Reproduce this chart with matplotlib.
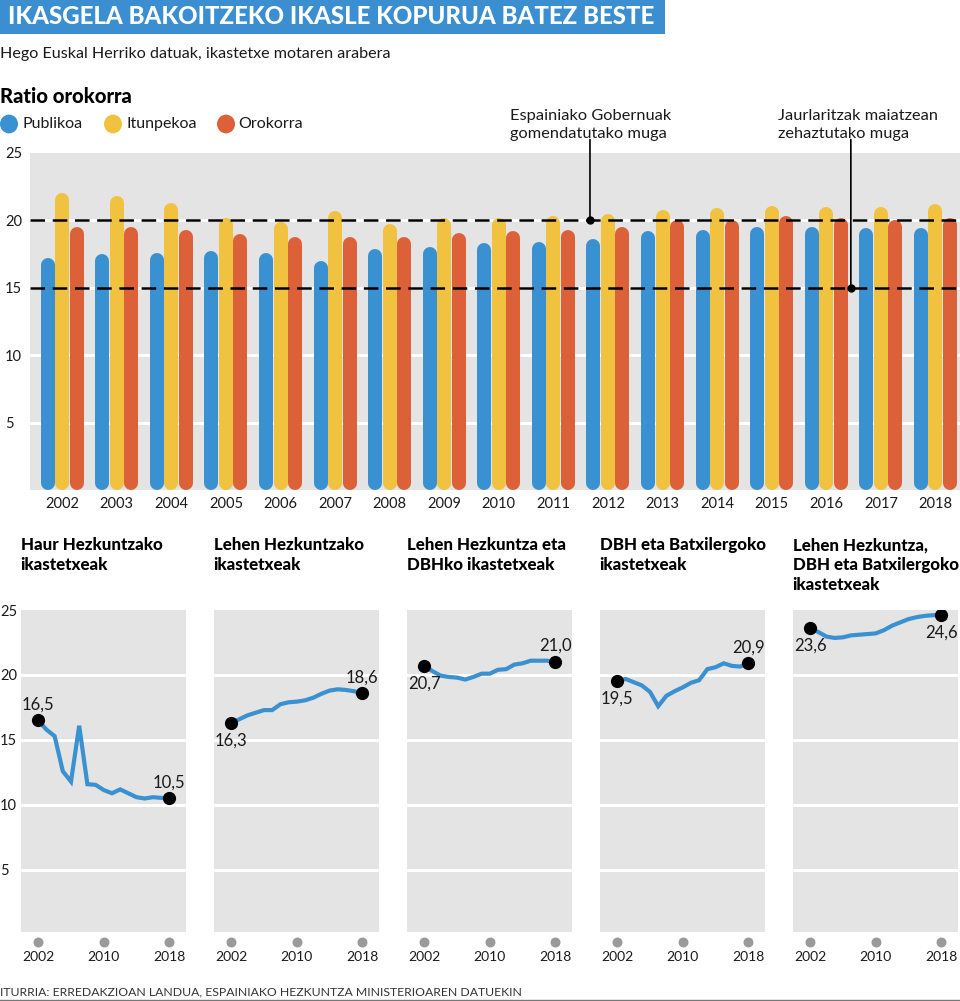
import numpy as np
import matplotlib
matplotlib.use("Agg")
from matplotlib import pyplot as plt
from matplotlib import transforms
from matplotlib.patches import Rectangle, Circle

plt.rcParams['font.family'] = ['Lato', 'DejaVu Sans']
plt.rcParams['lines.scale_dashes'] = False

# ---- data ----
years = list(range(2002, 2019))
publikoa = [17.2, 17.5, 17.6, 17.7, 17.6, 17.0, 17.85, 18.0, 18.3, 18.4, 18.6, 19.2, 19.3, 19.5, 19.5, 19.4, 19.4]
itunpekoa = [22.0, 21.8, 21.3, 20.2, 19.9, 20.7, 19.75, 20.2, 20.2, 20.3, 20.5, 20.8, 20.9, 21.1, 21.0, 21.0, 21.2]
orokorra = [19.5, 19.5, 19.3, 19.0, 18.8, 18.8, 18.8, 19.1, 19.2, 19.3, 19.5, 20.0, 20.05, 20.3, 20.2, 20.05, 20.2]

haur = [16.5, 15.8, 15.3, 12.6, 11.8, 16.1, 11.6, 11.55, 11.15, 10.9, 11.2, 10.9, 10.6, 10.5, 10.6, 10.55, 10.5]
lehen = [16.3, 16.6, 16.9, 17.1, 17.3, 17.3, 17.75, 17.9, 17.95, 18.05, 18.25, 18.55, 18.8, 18.9, 18.85, 18.75, 18.6]
lehen_dbh = [20.7, 20.3, 19.95, 19.85, 19.8, 19.65, 19.85, 20.1, 20.1, 20.4, 20.45, 20.8, 20.9, 21.1, 21.1, 21.1, 21.0]
dbh_batx = [19.5, 19.7, 19.45, 19.2, 18.7, 17.6, 18.4, 18.75, 19.05, 19.4, 19.6, 20.45, 20.6, 20.9, 20.7, 20.65, 20.9]
lehen_dbh_batx = [23.6, 23.3, 22.95, 22.85, 22.9, 23.05, 23.1, 23.15, 23.2, 23.45, 23.8, 24.05, 24.3, 24.45, 24.55, 24.6, 24.6]

series_names = ['Publikoa', 'Itunpekoa', 'Orokorra']
panel_titles = ['Haur Hezkuntzako\nikastetxeak',
                'Lehen Hezkuntzako\nikastetxeak',
                'Lehen Hezkuntza eta\nDBHko ikastetxeak',
                'DBH eta Batxilergoko\nikastetxeak',
                'Lehen Hezkuntza,\nDBH eta Batxilergoko\nikastetxeak']
panel_data = [haur, lehen, lehen_dbh, dbh_batx, lehen_dbh_batx]
# label placement of first / last value: 'a' above, 'b' below
label_pos = [('a', 'a'), ('b', 'a'), ('b', 'a'), ('b', 'a'), ('b', 'b')]

BLUE = '#3a91d1'
YELLOW = '#f1c23f'
ORANGE = '#dc6139'
GRAY = '#e4e4e4'
TXT = '#1a1a1a'

W, H = 960, 1001
fig = plt.figure(figsize=(W / 100, H / 100), dpi=100)


def fx(px):
    return px / W


def fy(py):
    return 1 - py / H


# ---- header ----
fig.patches.append(Rectangle((0, fy(34)), fx(665), 34 / H, transform=fig.transFigure,
                             facecolor='#3b8fd0', edgecolor='none'))
fig.text(fx(8), fy(17), 'IKASGELA BAKOITZEKO IKASLE KOPURUA BATEZ BESTE', color='white',
         fontsize=17.3, fontweight='black', va='center', ha='left')
fig.text(fx(0), fy(54), 'Hego Euskal Herriko datuak, ikastetxe motaren arabera', color=TXT,
         fontsize=11.6, va='center', ha='left')
fig.text(fx(0), fy(97), 'Ratio orokorra', color='black', fontsize=14.6, fontweight='black',
         va='center', ha='left')

# legend
for cx, tx, col, name in zip([9, 113, 226], [22, 126, 238], [BLUE, YELLOW, ORANGE], series_names):
    fig.patches.append(Circle((fx(cx), fy(124)), 9 / W, transform=fig.transFigure,
                              facecolor=col, edgecolor='none'))
    fig.text(fx(tx), fy(124), name, color=TXT, fontsize=11.5, va='center', ha='left')

# ---- main bar chart ----
ax = fig.add_axes([fx(30), fy(490), fx(930), (490 - 153) / H])
ax.set_facecolor(GRAY)
for s in ax.spines.values():
    s.set_visible(False)
ax.set_xlim(2001.41, 2018.45)
ax.set_ylim(0, 25)
for g in [5, 10, 15, 20]:
    ax.axhline(g, color='white', lw=2.2, zorder=1)

r = 7 / (337 / 25)  # cap radius in data units
bar_lw = 14 * 0.72
for off, vals, col in zip([-0.266, 0, 0.266], [publikoa, itunpekoa, orokorra], [BLUE, YELLOW, ORANGE]):
    for yr, v in zip(years, vals):
        ax.plot([yr + off, yr + off], [r, v - r], color=col, lw=bar_lw,
                solid_capstyle='round', zorder=2, clip_on=False)

for lim in [15, 20]:
    ax.axhline(lim, color='black', lw=1.8, dashes=(10.5, 5.5), zorder=3)

ax.set_xticks(years)
ax.set_xticklabels([str(y) for y in years], fontsize=10.5, color=TXT)
ax.set_yticks([5, 10, 15, 20, 25])
ax.set_yticklabels(['5', '10', '15', '20', '25'], fontsize=10.5, color=TXT)
for lab in ax.get_yticklabels():
    lab.set_ha('left')
ax.tick_params(axis='y', length=0, pad=18)
ax.tick_params(axis='x', length=0, pad=5)

# annotations
ax.annotate('', xy=(2011.67, 20), xytext=(2011.67, 26.0), annotation_clip=False,
            arrowprops=dict(arrowstyle='-', color='black', lw=1.2, shrinkA=0, shrinkB=0))
ax.plot([2011.67], [20], 'o', color='black', ms=5, zorder=4)
ax.annotate('', xy=(2016.45, 15), xytext=(2016.45, 26.0), annotation_clip=False,
            arrowprops=dict(arrowstyle='-', color='black', lw=1.2, shrinkA=0, shrinkB=0))
ax.plot([2016.45], [15], 'o', color='black', ms=5, zorder=4)
fig.text(fx(510), fy(125), 'Espainiako Gobernuak\ngomendatutako muga', color=TXT, fontsize=11.8,
         va='center', ha='left', linespacing=1.45)
fig.text(fx(778), fy(125), 'Jaurlaritzak maiatzean\nzehaztutako muga', color=TXT, fontsize=11.8,
         va='center', ha='left', linespacing=1.45)

# ---- small multiples ----
for i, (title, vals, (p0, p1)) in enumerate(zip(panel_titles, panel_data, label_pos)):
    left = 20.7 + 193 * i
    pax = fig.add_axes([fx(left), fy(932), fx(165), (932 - 610) / H])
    pax.set_facecolor(GRAY)
    for s in pax.spines.values():
        s.set_visible(False)
    pax.set_xlim(1999.86, 2020.0)
    pax.set_ylim(0.23, 25)
    for g in [5, 10, 15, 20]:
        pax.axhline(g, color='white', lw=2.2, zorder=1)
    pax.plot(years, vals, color=BLUE, lw=3, zorder=2, solid_joinstyle='miter')
    pax.plot([years[0], years[-1]], [vals[0], vals[-1]], 'o', color='black', ms=8.5, zorder=3)
    for yr, v, pos in [(years[0], vals[0], p0), (years[-1], vals[-1], p1)]:
        dy = 11.5 if pos == 'a' else -12.5
        txt = f'{v:.1f}'.replace('.', ',')
        pax.annotate(txt, xy=(yr, v), xytext=(0, dy), textcoords='offset points',
                     ha='center', va='center', fontsize=12, color=TXT, zorder=4)

    pax.set_xticks([2002, 2010, 2018])
    pax.set_xticklabels(['2002', '2010', '2018'], fontsize=10, color=TXT)
    pax.tick_params(axis='x', length=0, pad=14)
    trans = transforms.blended_transform_factory(pax.transData, pax.transAxes)
    pax.scatter([2002, 2010, 2018], [-10 / 322] * 3, s=38, color='#9a9a9a',
                transform=trans, clip_on=False, zorder=3)
    if i == 0:
        pax.set_yticks([5, 10, 15, 20, 25])
        pax.set_yticklabels(['5', '10', '15', '20', '25'], fontsize=10.5, color=TXT)
        for lab in pax.get_yticklabels():
            lab.set_ha('left')
        pax.tick_params(axis='y', length=0, pad=15)
    else:
        pax.set_yticks([])

    fig.text(fx(left), fy(537), title, color='black', fontsize=12.2, fontweight='black',
             va='top', ha='left', linespacing=1.32)

# ---- source ----
fig.text(fx(0), fy(992), 'ITURRIA: ERREDAKZIOAN LANDUA, ESPAINIAKO HEZKUNTZA MINISTERIOAREN DATUEKIN',
         color='#333333', fontsize=8.8, va='center', ha='left')
fig.add_artist(plt.Line2D([0, 1], [fy(1000), fy(1000)], transform=fig.transFigure,
                          color='#777777', lw=1))

fig.savefig('out.png', dpi=100)
